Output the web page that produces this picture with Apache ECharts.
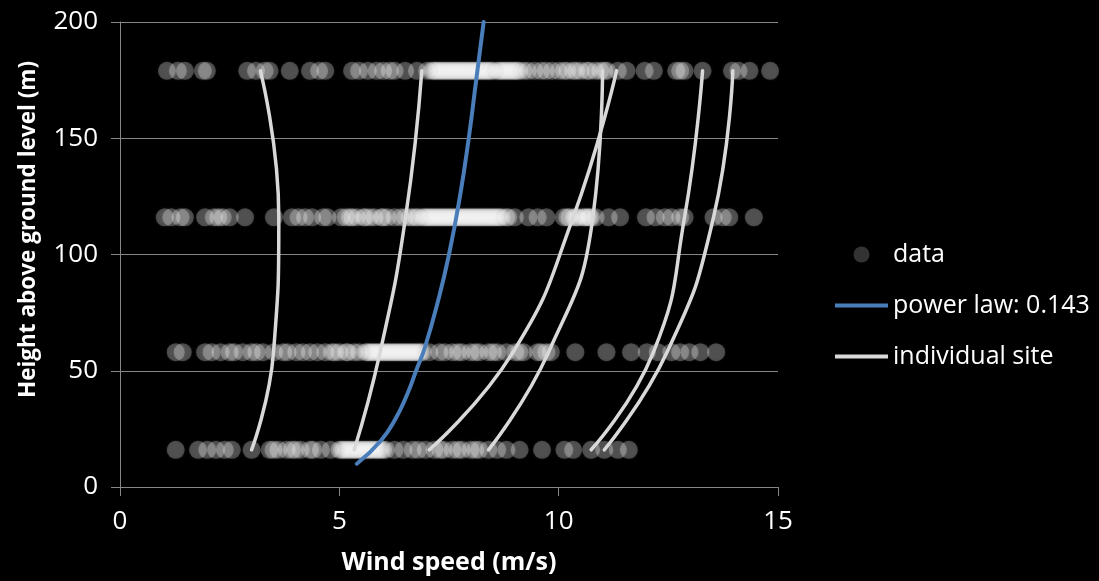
<!DOCTYPE html>
<html>
<head>
<meta charset="utf-8">
<script src="https://cdn.jsdelivr.net/npm/echarts@6/dist/echarts.min.js"></script>
<style>
html,body{margin:0;padding:0;background:#000;}
#c{width:1099px;height:581px;}
</style>
</head>
<body>
<div id="c"></div>
<script>
// Measurement heights (m) of the scatter rows
const rowHeights = [16, 58, 116, 179];
// Wind speeds (m/s) of observations in each row
const row16 = [1.27,1.78,1.99,2.19,2.39,2.55,3.00,3.41,3.5,3.61,3.8,3.92,4.0,4.12,4.33,4.4,4.58,4.8,5.0,5.05,5.1,5.15,5.2,5.25,5.3,5.35,5.4,5.45,5.5,5.55,5.6,5.65,5.7,5.75,5.8,5.85,5.9,5.95,6.0,6.06,6.26,6.46,6.67,6.8,6.97,7.17,7.3,7.38,7.58,7.7,7.79,7.99,8.1,8.19,8.40,8.6,8.81,9.11,9.62,10.13,10.33,10.74,11.04,11.35,11.60];
const row58 = [1.27,1.43,1.94,2.09,2.29,2.50,2.60,2.80,3.00,3.11,3.26,3.51,3.72,3.82,4.02,4.17,4.33,4.5,4.68,4.83,4.9,5.0,5.15,5.2,5.34,5.45,5.6,5.65,5.7,5.75,5.8,5.85,5.9,5.95,6.0,6.05,6.1,6.15,6.2,6.25,6.3,6.35,6.4,6.45,6.5,6.55,6.6,6.65,6.7,6.75,6.8,6.85,6.9,7.05,7.28,7.4,7.58,7.7,7.79,7.99,8.1,8.19,8.40,8.5,8.60,8.81,9.01,9.1,9.2,9.52,9.6,9.72,9.82,10.38,11.09,11.65,12.01,12.26,12.57,12.77,12.98,13.23,13.59];
const row116 = [1.02,1.17,1.38,1.48,1.94,2.14,2.24,2.34,2.50,2.85,3.51,3.92,4.07,4.22,4.38,4.63,4.73,5.04,5.15,5.24,5.3,5.4,5.55,5.6,5.7,5.8,5.96,6.0,6.1,6.26,6.4,6.5,6.6,6.67,6.75,6.8,6.9,6.95,7.0,7.05,7.1,7.15,7.2,7.25,7.3,7.35,7.4,7.45,7.5,7.55,7.6,7.65,7.7,7.75,7.8,7.85,7.9,7.95,8.0,8.05,8.1,8.15,8.2,8.25,8.3,8.35,8.4,8.45,8.5,8.55,8.6,8.65,8.7,8.8,8.85,9.0,9.31,9.52,9.72,10.12,10.2,10.25,10.35,10.4,10.45,10.55,10.6,10.65,10.7,10.74,10.84,11.14,11.4,11.99,12.21,12.42,12.57,12.77,12.87,13.53,13.74,13.89,14.45];
const row179 = [1.07,1.32,1.48,1.89,1.98,2.90,3.10,3.30,3.41,3.87,4.33,4.54,4.68,5.29,5.45,5.65,5.85,6.0,6.15,6.26,6.5,6.77,7.0,7.1,7.15,7.2,7.25,7.3,7.35,7.4,7.45,7.5,7.55,7.6,7.65,7.7,7.75,7.8,7.85,7.9,7.95,8.0,8.05,8.1,8.15,8.2,8.25,8.3,8.35,8.4,8.45,8.5,8.6,8.65,8.7,8.75,8.8,8.85,8.9,8.95,9.0,9.05,9.1,9.2,9.3,9.45,9.6,9.71,9.85,10.0,10.12,10.2,10.33,10.4,10.5,10.64,10.7,10.84,10.95,11.04,11.1,11.35,11.55,11.96,12.17,12.68,12.77,12.87,13.28,13.95,14.10,14.35,14.82];

// Power law profile (exponent 0.143)
const powerHeights = [10, 20, 30, 40, 50, 60, 80, 100, 125, 150, 175, 200];
const powerSpeeds  = [5.40, 5.95, 6.30, 6.55, 6.75, 6.95, 7.25, 7.50, 7.75, 7.95, 8.12, 8.29];

// Individual site profiles (speeds at rowHeights)
const site1 = [3.00, 3.50, 3.62, 3.20];
const site2 = [5.34, 5.93, 6.51, 6.88];
const site3 = [7.05, 8.96, 10.33, 11.32];
const site4 = [8.40, 9.77, 10.78, 11.00];
const site5 = [10.74, 12.16, 12.87, 13.28];
const site6 = [11.04, 12.47, 13.53, 13.97];
const sites = [site1, site2, site3, site4, site5, site6];

const xTicks = {min: 0, max: 15, interval: 5};
const yTicks = {min: 0, max: 200, interval: 50};

const FONT = '"Open Sans", Lato, sans-serif';
const scatterData = [];
[row16, row58, row116, row179].forEach((row, i) => row.forEach(v => scatterData.push([v, rowHeights[i]])));

const series = [{
  name: 'data', type: 'scatter', data: scatterData, symbolSize: 18, z: 1,
  itemStyle: {color: 'rgba(255,255,255,0.32)', shadowBlur: 3, shadowColor: 'rgba(255,255,255,0.3)'}
}];
sites.forEach(s => series.push({
  name: 'individual site', type: 'line', smooth: true, showSymbol: false, symbol: 'none', z: 3,
  data: s.map((v, i) => [v, rowHeights[i]]),
  lineStyle: {color: '#D9D9D9', width: 3.5, cap: 'round'},
  itemStyle: {color: '#D9D9D9'}
}));
series.push({
  name: 'power law: 0.143', type: 'line', smooth: true, showSymbol: false, symbol: 'none', z: 4,
  data: powerSpeeds.map((v, i) => [v, powerHeights[i]]),
  lineStyle: {color: '#4A7EBB', width: 4, cap: 'round'},
  itemStyle: {color: '#4A7EBB'}
});

const chart = echarts.init(document.getElementById('c'));
chart.setOption({
  backgroundColor: '#000',
  animation: false,
  textStyle: {fontFamily: FONT},
  grid: {left: 120, right: 321, top: 22, bottom: 94, containLabel: false},
  legend: {
    orient: 'vertical', left: 828, top: 237,
    itemWidth: 53, itemHeight: 16, itemGap: 26,
    data: [
      {name: 'data', icon: 'circle', itemStyle: {color: '#404040', shadowBlur: 0}},
      {name: 'power law: 0.143', itemStyle: {opacity: 0}, lineStyle: {width: 4, color: '#4A7EBB', cap: 'butt'}},
      {name: 'individual site', itemStyle: {opacity: 0}, lineStyle: {width: 4, color: '#D9D9D9', cap: 'butt'}}
    ],
    textStyle: {color: '#fff', fontSize: 25, fontFamily: FONT}
  },
  xAxis: {
    type: 'value', min: xTicks.min, max: xTicks.max, interval: xTicks.interval,
    name: 'Wind speed (m/s)', nameLocation: 'middle', nameGap: 63,
    nameTextStyle: {color: '#fff', fontSize: 25, fontWeight: 'bold', fontFamily: FONT},
    axisLine: {show: true, lineStyle: {color: '#868686', width: 1}},
    axisTick: {show: true, length: 9, lineStyle: {color: '#868686'}},
    axisLabel: {color: '#fff', fontSize: 26, margin: 22, fontFamily: FONT},
    splitLine: {show: false}
  },
  yAxis: {
    type: 'value', min: yTicks.min, max: yTicks.max, interval: yTicks.interval,
    name: 'Height above ground level (m)', nameLocation: 'middle', nameGap: 80, nameRotate: 90,
    nameTextStyle: {color: '#fff', fontSize: 22.5, fontWeight: 'bold', fontFamily: FONT, padding: [0, 0, 0, 50]},
    axisLine: {show: true, lineStyle: {color: '#868686', width: 1}},
    axisTick: {show: true, length: 9, lineStyle: {color: '#868686'}},
    axisLabel: {color: '#fff', fontSize: 26, margin: 22, fontFamily: FONT},
    splitLine: {show: true, lineStyle: {color: '#868686', width: 1}}
  },
  series: series
});
</script>
</body>
</html>
